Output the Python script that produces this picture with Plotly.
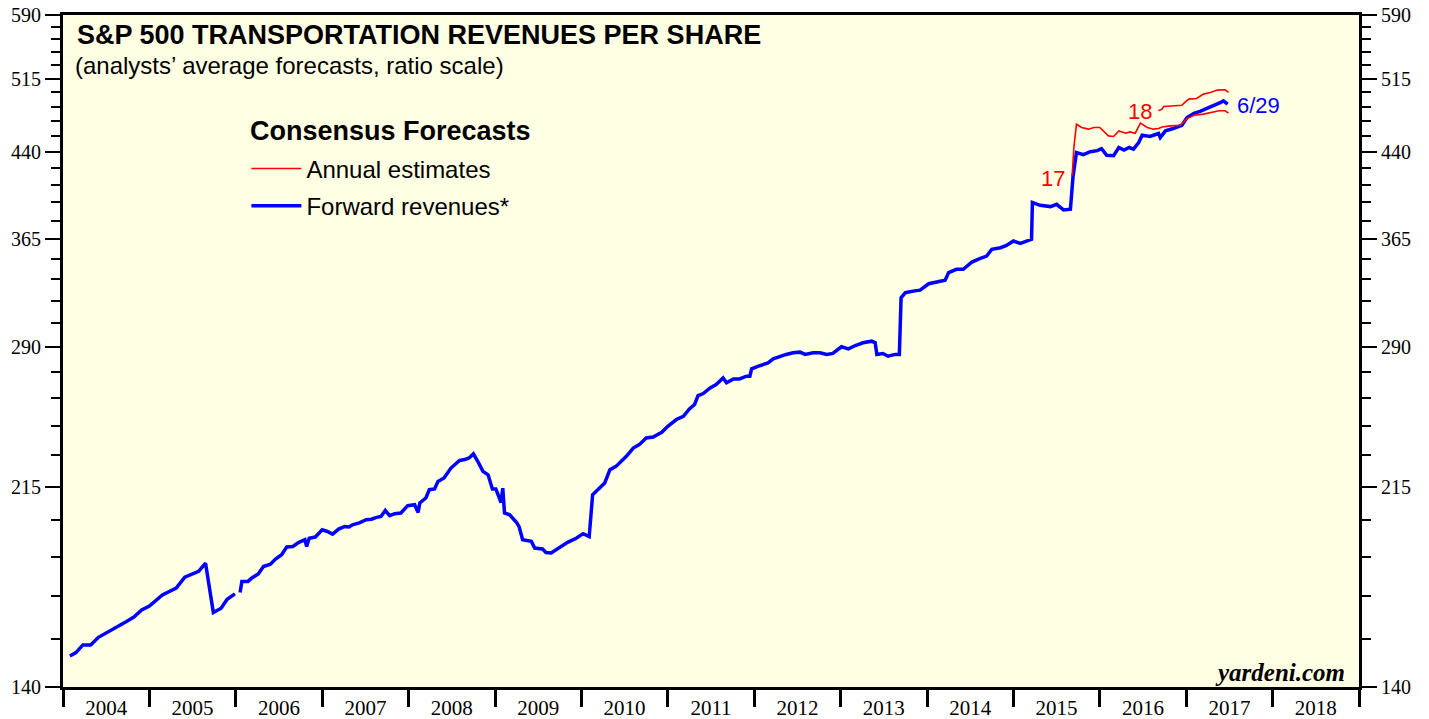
import math
import plotly.graph_objects as go

# ---------------- data ----------------
fwd_x = [2004.08, 2004.15, 2004.23, 2004.32, 2004.41, 2004.57, 2004.73, 2004.82, 2004.91, 2005.00,
         2005.15, 2005.31, 2005.41, 2005.57, 2005.65, 2005.74, 2005.83, 2005.90, 2005.99, None,
         2006.05, 2006.07, 2006.14, 2006.19, 2006.26, 2006.32, 2006.40, 2006.46, 2006.53, 2006.59,
         2006.66, 2006.73, 2006.80, 2006.82, 2006.85, 2006.92, 2007.00, 2007.06, 2007.12, 2007.19,
         2007.26, 2007.31, 2007.35, 2007.43, 2007.51, 2007.57, 2007.62, 2007.68, 2007.73, 2007.78,
         2007.84, 2007.91, 2007.99, 2008.07, 2008.11, 2008.13, 2008.20, 2008.24, 2008.30, 2008.34,
         2008.41, 2008.49, 2008.59, 2008.65, 2008.70, 2008.75, 2008.81, 2008.86, 2008.92, 2008.97,
         2009.01, 2009.07, 2009.09, 2009.11, 2009.17, 2009.25, 2009.28, 2009.32, 2009.42, 2009.46,
         2009.55, 2009.59, 2009.65, 2009.75, 2009.84, 2009.94, 2010.02, 2010.09, 2010.13, 2010.21,
         2010.27, 2010.33, 2010.40, 2010.52, 2010.60, 2010.67, 2010.75, 2010.83, 2010.93, 2011.00,
         2011.10, 2011.18, 2011.25, 2011.31, 2011.35, 2011.41, 2011.49, 2011.56, 2011.64, 2011.68,
         2011.76, 2011.83, 2011.91, 2011.95, 2011.97, 2012.05, 2012.10, 2012.16, 2012.22, 2012.30,
         2012.37, 2012.45, 2012.53, 2012.59, 2012.68, 2012.76, 2012.84, 2012.91, 2013.01, 2013.09,
         2013.17, 2013.26, 2013.36, 2013.40, 2013.42, 2013.49, 2013.55, 2013.63, 2013.68, 2013.70,
         2013.75, 2013.84, 2013.92, 2014.02, 2014.11, 2014.21, 2014.25, 2014.34, 2014.42, 2014.52,
         2014.61, 2014.69, 2014.75, 2014.85, 2014.92, 2015.00, 2015.08, 2015.16, 2015.21, 2015.22,
         2015.31, 2015.43, 2015.50, 2015.58, 2015.66, 2015.69, 2015.73, 2015.81, 2015.89, 2015.97,
         2016.02, 2016.08, 2016.16, 2016.22, 2016.28, 2016.34, 2016.39, 2016.45, 2016.49, 2016.58,
         2016.68, 2016.70, 2016.76, 2016.85, 2016.95, 2017.01, 2017.09, 2017.16, 2017.24, 2017.32,
         2017.40, 2017.43, 2017.48]
fwd_y = [149.6, 150.7, 153.2, 153.2, 155.7, 158.2, 161.0, 162.6, 165.1, 166.5,
         170.5, 173.0, 177.1, 179.3, 182.5, 164.2, 165.7, 168.9, 170.9, None,
         171.4, 175.5, 175.5, 176.9, 178.3, 181.2, 182.1, 184.1, 185.8, 188.9,
         189.1, 190.8, 191.9, 189.1, 192.5, 193.0, 196.0, 195.3, 194.2, 196.3,
         197.4, 197.2, 198.1, 198.9, 200.3, 200.5, 201.2, 201.7, 204.3, 202.0,
         202.9, 203.2, 206.4, 206.8, 203.4, 207.6, 209.8, 213.6, 213.9, 217.4,
         219.0, 223.7, 227.4, 227.8, 228.6, 230.6, 226.2, 222.1, 220.5, 213.9,
         213.9, 207.8, 214.3, 203.2, 202.4, 199.1, 197.2, 191.9, 191.2, 188.5,
         188.1, 186.7, 186.5, 188.9, 190.8, 192.5, 194.4, 193.2, 211.3, 214.3,
         216.7, 222.9, 224.5, 229.4, 233.5, 235.2, 238.6, 239.1, 241.5, 244.6,
         248.2, 249.9, 253.9, 256.3, 261.2, 262.4, 265.6, 267.5, 271.3, 268.5,
         270.7, 270.7, 272.3, 272.3, 276.6, 278.2, 279.2, 280.2, 282.6, 284.2,
         285.3, 286.3, 286.7, 285.3, 286.3, 286.3, 285.3, 285.9, 290.0, 288.7,
         290.8, 292.5, 293.5, 292.5, 285.3, 285.9, 284.2, 285.3, 285.3, 322.1,
         325.6, 326.7, 327.4, 331.9, 333.1, 334.5, 339.9, 342.3, 342.3, 347.7,
         350.2, 352.2, 357.3, 358.5, 360.3, 363.7, 361.9, 363.7, 365.0, 394.9,
         392.6, 391.5, 393.4, 388.7, 389.3, 417.5, 439.6, 437.5, 440.3, 441.3,
         443.1, 437.0, 436.5, 444.3, 441.9, 444.3, 442.7, 449.1, 456.2, 454.9,
         457.8, 453.9, 460.4, 462.7, 466.0, 473.8, 477.9, 480.0, 483.0, 485.7,
         489.3, 491.0, 487.5]

est17_x = [2015.68, 2015.70, 2015.73, 2015.79, 2015.87, 2015.93, 2016.00, 2016.06, 2016.10, 2016.16,
           2016.22, 2016.30, 2016.35, 2016.41, 2016.47, 2016.55, 2016.62, 2016.68, 2016.72, 2016.82,
           2016.93, 2017.01, 2017.09, 2017.20, 2017.28, 2017.38, 2017.45, 2017.49]
est17_y = [418.0, 444.3, 467.0, 463.7, 462.1, 463.7, 463.7, 458.8, 455.5, 454.9,
           460.4, 458.1, 459.4, 458.1, 468.1, 463.7, 462.1, 462.7, 464.3, 465.3,
           466.0, 472.7, 476.1, 477.2, 478.9, 480.6, 480.6, 478.2]

est18_x = [2016.68, 2016.72, 2016.74, 2016.84, 2016.95, 2016.99, 2017.03, 2017.12, 2017.20, 2017.28,
           2017.36, 2017.45, 2017.49]
est18_y = [480.6, 482.3, 485.1, 485.7, 486.4, 489.9, 492.8, 493.4, 498.1, 499.9,
           502.4, 502.7, 499.9]

y_major = [140, 215, 290, 365, 440, 515, 590]
year_labels = [str(y) for y in range(2004, 2019)]
year_bounds = list(range(2004, 2020))

# end labels: (text, x, y, colour, anchor)
end_labels = [("17", 2015.46, 416.0, "#ff0000", "center"),
              ("18", 2016.47, 480.3, "#ff0000", "center"),
              ("6/29", 2017.57, 486.5, "#0000ff", "left")]

# ---------------- figure ----------------
RED = "#ff0000"
BLUE = "#0000ff"
SANS = "Liberation Sans, Arial, sans-serif"
SERIF = "Liberation Serif, Times New Roman, serif"

fig = go.Figure()
fig.add_trace(go.Scatter(x=est17_x, y=est17_y, mode="lines", line=dict(color=RED, width=1.6),
                         name="Annual estimates", legendgroup="a", showlegend=True,
                         xaxis="x2", yaxis="y2", hoverinfo="skip"))
fig.add_trace(go.Scatter(x=est18_x, y=est18_y, mode="lines", line=dict(color=RED, width=1.6),
                         name="Annual estimates 18", legendgroup="a", showlegend=False,
                         xaxis="x2", yaxis="y2", hoverinfo="skip"))
fig.add_trace(go.Scatter(x=fwd_x, y=fwd_y, mode="lines", line=dict(color=BLUE, width=3.5),
                         name="Forward revenues*", legendgroup="b", showlegend=True,
                         connectgaps=False, hoverinfo="skip"))

yr = [math.log10(140), math.log10(590)]
minor_vals = [v for v in range(140, 591, 15) if v not in y_major]

common_y = dict(type="log", range=yr, tickmode="array", tickvals=y_major,
                ticktext=[str(v) for v in y_major], ticks="outside", ticklen=15,
                tickwidth=2, tickcolor="black", showgrid=False, zeroline=False,
                tickfont=dict(family=SERIF, size=20, color="black"),
                minor=dict(tickmode="array", tickvals=minor_vals, ticks="outside",
                           ticklen=9, tickwidth=1.5, tickcolor="black", showgrid=False),
                showline=True, linecolor="black", linewidth=3, fixedrange=True,
                automargin=False)

fig.update_layout(
    template="none",
    width=1429, height=719,
    margin=dict(l=63, r=70, t=15, b=32, pad=0),
    paper_bgcolor="white", plot_bgcolor="#ffffe3",
    showlegend=True,
    legend=dict(x=0.1415, y=0.8045, xanchor="left", yanchor="top",
                bgcolor="rgba(0,0,0,0)", borderwidth=0,
                font=dict(family=SANS, size=24, color="black"),
                tracegroupgap=3, traceorder="grouped", itemwidth=50),
    xaxis=dict(range=[2004, 2019], tickmode="array", tickvals=year_bounds,
               showticklabels=False, ticks="outside", ticklen=17, tickwidth=2.5,
               tickcolor="black", showline=True, mirror=True, linecolor="black",
               linewidth=3, showgrid=False, zeroline=False, fixedrange=True,
               automargin=False),
    xaxis2=dict(range=[2004, 2019], overlaying="x", side="bottom", anchor="y2",
                tickmode="array", tickvals=[y + 0.5 for y in range(2004, 2019)],
                ticktext=year_labels, ticks="outside", ticklen=2,
                tickcolor="rgba(0,0,0,0)", showline=False, showgrid=False,
                zeroline=False, tickfont=dict(family=SERIF, size=21, color="black"),
                fixedrange=True, automargin=False),
    yaxis=dict(side="left", mirror=True, **common_y),
    yaxis2=dict(side="right", overlaying="y", anchor="x", **common_y),
)

annotations = [
    dict(text="<b>S&P 500 TRANSPORTATION REVENUES PER SHARE</b>", xref="paper", yref="paper",
         x=0.009, y=0.970, xanchor="left", yanchor="middle", showarrow=False,
         font=dict(family=SANS, size=27, color="black")),
    dict(text="(analysts’ average forecasts, ratio scale)", xref="paper", yref="paper",
         x=0.008, y=0.9255, xanchor="left", yanchor="middle", showarrow=False,
         font=dict(family=SANS, size=24, color="black")),
    dict(text="<b>Consensus Forecasts</b>", xref="paper", yref="paper",
         x=0.1425, y=(687 - 131.5) / 671, xanchor="left", yanchor="middle", showarrow=False,
         font=dict(family=SANS, size=27, color="black")),
    dict(text="<b><i>yardeni.com</i></b>", xref="paper", yref="paper",
         x=0.991, y=0.022, xanchor="right", yanchor="middle", showarrow=False,
         font=dict(family=SERIF, size=25, color="black")),
]
for txt, lx, ly, col, anc in end_labels:
    annotations.append(dict(text=txt, x=lx, y=math.log10(ly), xref="x", yref="y",
                            xanchor=anc, yanchor="middle", showarrow=False,
                            font=dict(family=SANS, size=22, color=col)))
fig.update_layout(annotations=annotations)

fig.write_html("out.html", post_script="document.body.style.margin='0';",
               config={"displayModeBar": False})
